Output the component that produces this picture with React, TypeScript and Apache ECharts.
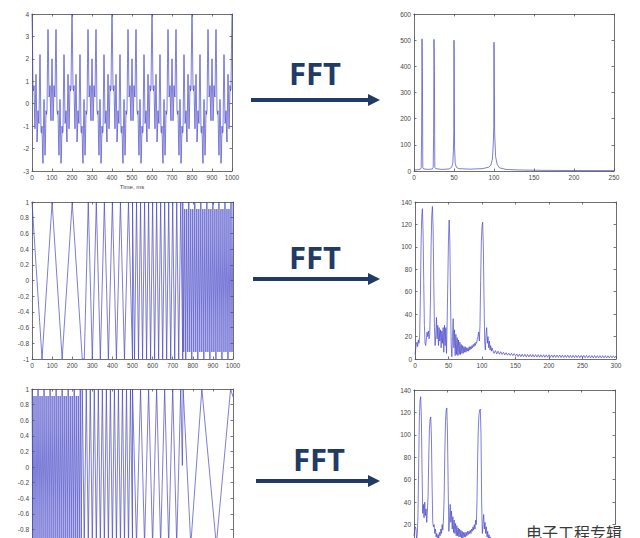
import React, { useEffect, useRef } from "react";
import * as echarts from "echarts";

// ---------- Panel 1 (top-left): sum of tones, one 200 ms period read at 2.5 ms steps ----------
const sumPeriodValues = [
  4, 2.62, 0.66, 0.57, 0.81, -0.38, -1.12, 0.24, 1.31, -0.06,
  -1.71, -1.25, -0.31, -0.78, -0.88, 0.92, 2.19, 0.74, -1.24, -1.31,
  -1, -2.08, -2.66, -1.11, 0.19, -0.92, -2.3, -1.54, -0.31, -0.48,
  -0.29, 1.79, 3.31, 2.09, 0.3, 0.38, 0.81, -0.2, -0.76, 0.77,
  2, 0.77, -0.76, -0.2, 0.81, 0.38, 0.3, 2.09, 3.31, 1.79,
  -0.29, -0.48, -0.31, -1.54, -2.3, -0.92, 0.19, -1.11, -2.66, -2.08,
  -1, -1.31, -1.24, 0.74, 2.19, 0.92, -0.88, -0.78, -0.31, -1.25,
  -1.71, -0.06, 1.31, 0.24, -1.12, -0.38, 0.81, 0.57, 0.66, 2.62,
];
const sumStepMs = 2.5;
const sumPeriodMs = 200;
const sumPeriodCount = 5;

// ---------- Panel 2 (middle-left): rising-frequency segments (extrema values) ----------
const up10 = [1, -1, 1, -1, 1, -1]; // 0..250 every 50
const up25 = [-1, 1, -1, 1, -1, 1, -1, 1, -1, 1, -1, 1, -1]; // 260..500 every 20
const up50 = [1, -1, 1, -1, 1, -1, 1, -1, 1, -1, 1, -1, 1, -1, 1, -1, 1, -1, 1, -1, 1, -1, 1, -1, 1, -1]; // 500..750 every 10
const up100 = [
  1, -0.91, 0.91, -1, 0.91, -0.91, 1, -0.91, 0.91, -1, 0.91, -0.91,
  1, -0.91, 0.91, -1, 0.91, -0.91, 1, -0.91, 0.91, -1, 0.91, -0.91,
  1, -0.91, 0.91, -1, 0.91, -0.91, 1, -0.91, 0.91, -1, 0.91, -0.91,
  1, -0.91, 0.91, -1, 0.91, -0.91, 1, -0.91, 0.91, -1, 0.91, -0.91,
  1, -0.91, 1,
]; // 750..1000 every 5

// ---------- Panel 3 (bottom-left): falling-frequency segments ----------
const down100 = [
  1, -0.91, 0.91, -1, 0.91, -0.91, 1, -0.91, 0.91, -1, 0.91, -0.91,
  1, -0.91, 0.91, -1, 0.91, -0.91, 1, -0.91, 0.91, -1, 0.91, -0.91,
  1, -0.91, 0.91, -1, 0.91, -0.91, 1, -0.91, 0.91, -1, 0.91, -0.91,
  1, -0.91, 0.91, -1, 0.91, -0.91, 1, -0.91, 0.91, -1, 0.91, -0.91,
  1, -0.91, 1,
]; // 0..250 every 5
const down50 = [1, -1, 1, -1, 1, -1, 1, -1, 1, -1, 1, -1, 1, -1, 1, -1, 1, -1, 1, -1, 1, -1, 1, -1, 1, -1]; // 250..500 every 10
const down25 = [1, -1, 1, -1, 1, -1, 1, -1, 1, -1, 1, -1, 1]; // 500..740 every 20
const downSlowX = [748, 752, 790, 845, 917, 988, 1000];
const downSlowY = [0.02, 1, -1, 1, -1, 1, 0.9];

// ---------- Spectra ----------
const fft1Points: [number, number][] = [
  [0, 4], [5, 5], [8, 7], [9, 12], [9.5, 130], [10, 505], [10.5, 380], [11, 14], [12, 8],
  [18, 6], [23, 8], [24, 14], [24.5, 135], [25, 503], [25.5, 380], [26, 15], [27, 9],
  [35, 6], [44, 8], [47, 14], [48.5, 30], [49.3, 80], [49.7, 150], [50, 500], [50.3, 380],
  [50.7, 90], [51.5, 30], [53, 14], [56, 9], [70, 7], [85, 9], [93, 14], [96, 22], [98, 45],
  [99.2, 110], [99.7, 170], [100, 492], [100.3, 380], [100.8, 150], [102, 55], [104, 25],
  [107, 12], [115, 6], [130, 4], [160, 2.5], [200, 1.8], [250, 1.5],
];

const fft2Head: [number, number][] = [
  [0, 4], [1, 9], [2, 13], [3, 15], [4, 11], [5, 17], [6, 14], [7, 22], [8, 55], [9, 100],
  [10, 126], [11, 134], [12, 115], [13, 70], [14, 30], [15, 14], [16, 12], [17, 18], [18, 24],
  [19, 20], [20, 25], [21, 18], [22, 22], [23, 50], [24, 100], [25, 128], [26, 136], [27, 118],
  [28, 70], [29, 28], [30, 12], [31, 22], [32, 37], [33, 18], [34, 30], [35, 12], [36, 28],
  [37, 16], [38, 26], [39, 10], [40, 25], [41, 14], [42, 28], [43, 6], [44, 30], [45, 12],
  [46, 28], [47, 5], [48, 34], [49, 70], [50, 108], [51, 124], [52, 105], [53, 55], [54, 12],
  [55, 2], [56, 20], [57, 36], [58, 10], [59, 26], [60, 3], [61, 22], [62, 4], [63, 19], [64, 3],
  [65, 17], [66, 4], [67, 15], [68, 4], [69, 13], [70, 5], [71, 12], [72, 5], [73, 11], [74, 6],
  [75, 11], [76, 6], [77, 10], [78, 7], [79, 10], [80, 7], [81, 11], [82, 8], [83, 11], [84, 9],
  [85, 12], [86, 10], [87, 13], [88, 11], [89, 14], [90, 12], [91, 15], [92, 14], [93, 18],
  [94, 20], [95, 24], [96, 16], [97, 30], [98, 70], [99, 105], [100, 118], [101, 122], [102, 100],
  [103, 55], [104, 15], [105, 8], [106, 22], [107, 28], [108, 14], [109, 20], [110, 10],
  [111, 16], [112, 8], [113, 12], [114, 7], [115, 10],
];
const fft2TailStart = 116;
const fft2TailStep = 2;
const fft2Tail = [
  8, 5, 7.5, 4.5, 7, 4.2, 6.5, 4, 6, 3.6, 5.6, 3.4, 5.2, 3.2, 5, 3, 4.8, 2.8,
  4.5, 2.2, 4.4, 2, 4.3, 2, 4.2, 1.9, 4.1, 1.8, 4, 1.8, 4, 1.7, 3.9, 1.7, 3.9, 1.6, 3.8, 1.6,
  3.8, 1.5, 3.7, 1.5, 3.7, 1.5, 3.6, 1.4, 3.6, 1.4, 3.5, 1.4, 3.5, 1.3, 3.5, 1.3, 3.4, 1.3,
  3.4, 1.2, 3.4, 1.2, 3.3, 1.2, 3.3, 1.2, 3.3, 1.1, 3.2, 1.1, 3.2, 1.1, 3.2, 1.1, 3.1, 1,
  3.1, 1, 3.1, 1, 3, 1, 3, 1, 3, 1, 3, 1, 2.9, 1, 2.9, 1, 2.9, 1, 2.9,
];

const fft3Points: [number, number][] = [
  [0, 10], [1, 15], [2, 18], [3, 16], [4, 6], [5, 12], [6, 30], [7, 75], [8, 115], [9, 130],
  [10, 134], [11, 115], [12, 70], [13, 30], [14, 38], [15, 26], [16, 40], [17, 28], [18, 34],
  [19, 22], [20, 32], [21, 45], [22, 80], [23, 105], [24, 114], [25, 116], [26, 98], [27, 55],
  [28, 22], [29, 18], [30, 20], [31, 12], [32, 16], [33, 9], [34, 12], [35, 7], [36, 11], [37, 8],
  [38, 13], [39, 10], [40, 16], [41, 12], [42, 20], [43, 15], [44, 25], [45, 45], [46, 85],
  [47, 112], [48, 122], [49, 124], [50, 100], [51, 55], [52, 14], [53, 25], [54, 38], [55, 22],
  [56, 32], [57, 16], [58, 27], [59, 13], [60, 24], [61, 12], [62, 21], [63, 10], [64, 19],
  [65, 10], [66, 17], [67, 9], [68, 16], [69, 9], [70, 15], [71, 8], [72, 14], [73, 8], [74, 13],
  [75, 9], [76, 13], [77, 9], [78, 13], [79, 10], [80, 14], [81, 11], [82, 14], [83, 12], [84, 15],
  [85, 12], [86, 16], [87, 14], [88, 18], [89, 15], [90, 20], [91, 16], [92, 24], [93, 20],
  [94, 40], [95, 80], [96, 106], [97, 118], [98, 122], [99, 123], [100, 100], [101, 40], [102, 12],
  [103, 20], [104, 29], [105, 16], [106, 22], [107, 12], [108, 18], [109, 9], [110, 14], [111, 7],
  [112, 11], [113, 6], [114, 9], [116, 5], [120, 4], [130, 3], [150, 2.5], [200, 2], [300, 1.5],
];

// ---------- Axis ranges ----------
const timeAxis = { min: 0, max: 1000, interval: 100 };
const sumYAxis = { min: -3, max: 4, interval: 1 };
const unitYAxis = { min: -1, max: 1, interval: 0.2 };
const fft1XAxis = { min: 0, max: 250, interval: 50 };
const fft1YAxis = { min: 0, max: 600, interval: 100 };
const fftXAxis = { min: 0, max: 300, interval: 50 };
const fftYAxis = { min: 0, max: 140, interval: 20 };
const timeAxisName = "Time, ms";
const fftLabel = "FFT";
const watermark = "电子工程专辑";

// ---------- Colours ----------
const lineColor = "#4646c8";
const axisColor = "#707070";
const labelColor = "#474747";
const arrowColor = "#1f3b66";

function segment(start: number, step: number, values: number[]): [number, number][] {
  return values.map((v, i) => [start + i * step, v]);
}

function buildSum(): [number, number][] {
  const pts: [number, number][] = [];
  for (let p = 0; p < sumPeriodCount; p++) {
    sumPeriodValues.forEach((v, k) => pts.push([p * sumPeriodMs + k * sumStepMs, v]));
  }
  pts.push([sumPeriodCount * sumPeriodMs, sumPeriodValues[0]]);
  return pts;
}

const sumData = buildSum();
const upData: [number, number][] = [
  ...segment(0, 50, up10),
  ...segment(260, 20, up25),
  ...segment(500, 10, up50),
  ...segment(750, 5, up100),
];
const downData: [number, number][] = [
  ...segment(0, 5, down100),
  ...segment(250, 10, down50),
  ...segment(500, 20, down25),
  ...downSlowX.map((x, i) => [x, downSlowY[i]] as [number, number]),
];
const fft2Data: [number, number][] = [
  ...fft2Head,
  ...segment(fft2TailStart, fft2TailStep, fft2Tail),
];

const grids = [
  { left: 32, top: 14, width: 200, height: 157 },
  { left: 414, top: 14, width: 200, height: 157 },
  { left: 32, top: 202, width: 201, height: 157 },
  { left: 415, top: 202, width: 201, height: 157 },
  { left: 32, top: 389, width: 201, height: 156 },
  { left: 414, top: 390, width: 201, height: 157 },
];

type Range = { min: number; max: number; interval: number };

const fmt = (v: number) => String(Number(v.toFixed(4)));
const labelStyle = {
  fontSize: 6.5, color: labelColor, fontFamily: "Liberation Sans", margin: 3, formatter: fmt,
};
const lineSt = { onZero: false, lineStyle: { color: axisColor, width: 1 } };
const tickSt = { show: true, inside: true, length: 2.5, lineStyle: { color: "#555", width: 0.8 } };

function xAxes(g: number, r: Range, name?: string) {
  return [
    {
      type: "value", gridIndex: g, position: "bottom", ...r,
      axisLine: lineSt, axisTick: tickSt, axisLabel: labelStyle, splitLine: { show: false },
      name: name || "", nameLocation: "middle", nameGap: 13,
      nameTextStyle: { fontSize: 6, color: labelColor, fontFamily: "Liberation Sans" },
    },
    {
      type: "value", gridIndex: g, position: "top", ...r,
      axisLine: lineSt, axisTick: tickSt, axisLabel: { show: false }, splitLine: { show: false },
    },
  ];
}
function yAxes(g: number, r: Range) {
  return [
    {
      type: "value", gridIndex: g, position: "left", ...r,
      axisLine: lineSt, axisTick: tickSt, axisLabel: labelStyle, splitLine: { show: false },
    },
    {
      type: "value", gridIndex: g, position: "right", ...r,
      axisLine: lineSt, axisTick: tickSt, axisLabel: { show: false }, splitLine: { show: false },
    },
  ];
}

function lineSeries(g: number, data: [number, number][]) {
  return {
    type: "line", xAxisIndex: g * 2, yAxisIndex: g * 2, data,
    showSymbol: false, symbol: "none", silent: true, clip: true,
    lineStyle: { color: lineColor, width: 0.7 },
  };
}

const arrows = [
  { textX: 315, textY: 73, lineY: 100, x1: 251, x2: 380 },
  { textX: 315, textY: 257, lineY: 279, x1: 253, x2: 380 },
  { textX: 319, textY: 459, lineY: 481, x1: 256, x2: 380 },
];

function buildGraphic() {
  const els: any[] = [];
  arrows.forEach((a) => {
    els.push({
      type: "text", x: a.textX, y: a.textY, z: 100,
      style: {
        text: fftLabel, fontSize: 31, fontWeight: "bold", fontFamily: "Open Sans",
        fill: arrowColor, align: "center", verticalAlign: "middle",
      },
    });
    els.push({
      type: "line", z: 100,
      shape: { x1: a.x1, y1: a.lineY, x2: a.x2 - 9, y2: a.lineY },
      style: { stroke: arrowColor, lineWidth: 4 },
    });
    els.push({
      type: "polygon", z: 100,
      shape: { points: [[a.x2 - 12, a.lineY - 6], [a.x2, a.lineY], [a.x2 - 12, a.lineY + 6]] },
      style: { fill: arrowColor },
    });
  });
  els.push({
    type: "text", x: 526, y: 524, z: 120,
    style: {
      text: watermark, fontSize: 16, fontFamily: "Noto Sans CJK SC",
      fill: "#3a3a3a", stroke: "#ffffff", lineWidth: 2, align: "left", verticalAlign: "top",
    },
  });
  return els;
}

const option = {
  animation: false,
  backgroundColor: "#ffffff",
  grid: grids.map((g) => ({ ...g, containLabel: false, outerBoundsMode: "none" })),
  xAxis: [
    ...xAxes(0, timeAxis, timeAxisName),
    ...xAxes(1, fft1XAxis),
    ...xAxes(2, timeAxis),
    ...xAxes(3, fftXAxis),
    ...xAxes(4, timeAxis),
    ...xAxes(5, fftXAxis),
  ],
  yAxis: [
    ...yAxes(0, sumYAxis),
    ...yAxes(1, fft1YAxis),
    ...yAxes(2, unitYAxis),
    ...yAxes(3, fftYAxis),
    ...yAxes(4, unitYAxis),
    ...yAxes(5, fftYAxis),
  ],
  series: [
    lineSeries(0, sumData),
    lineSeries(1, fft1Points),
    lineSeries(2, upData),
    lineSeries(3, fft2Data),
    lineSeries(4, downData),
    lineSeries(5, fft3Points),
  ],
  graphic: buildGraphic(),
};

export default function App() {
  const ref = useRef<HTMLDivElement>(null);
  useEffect(() => {
    if (!ref.current) return;
    const chart = echarts.init(ref.current, undefined, { renderer: "svg" });
    chart.setOption(option as any);
    return () => chart.dispose();
  }, []);
  return (
    <div
      ref={ref}
      style={{ position: "fixed", left: 0, top: 0, width: 640, height: 538, background: "#fff" }}
    />
  );
}
